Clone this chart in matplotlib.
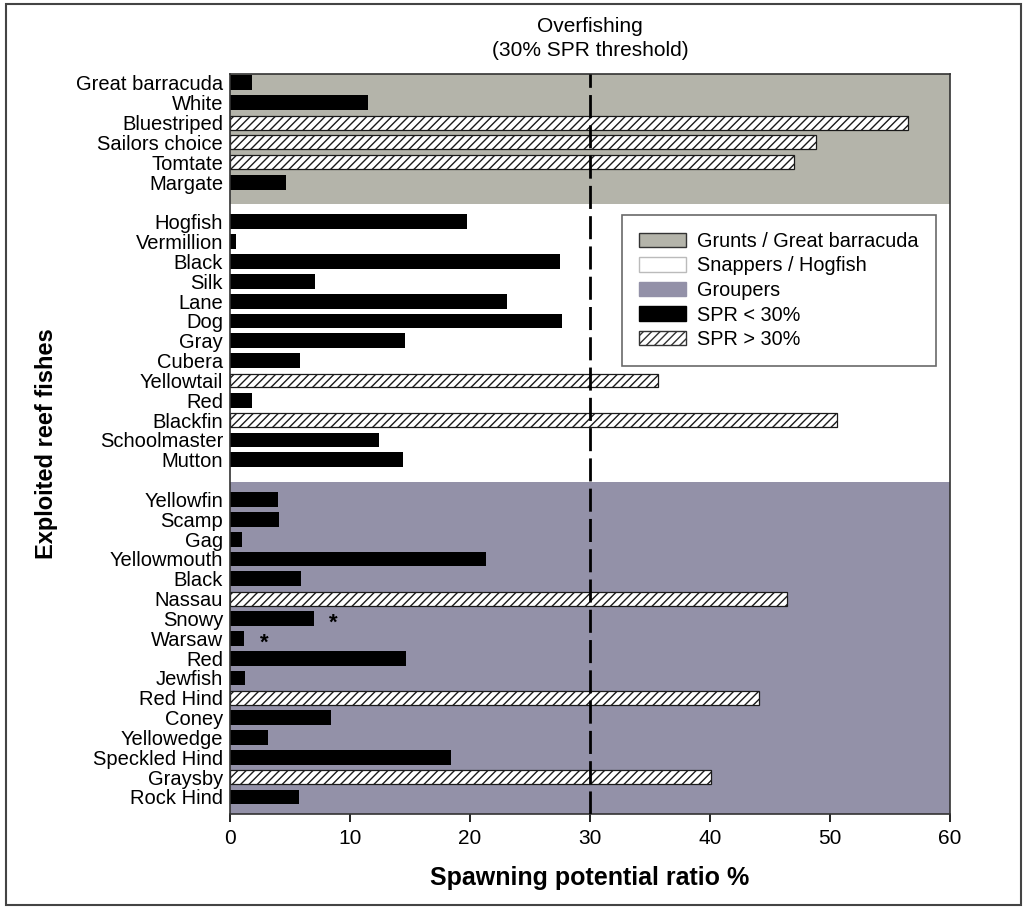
import numpy as np
import matplotlib
matplotlib.use("Agg")
import matplotlib.pyplot as plt
from matplotlib.patches import Patch, Rectangle

plt.rcParams['font.family'] = ['Liberation Sans', 'DejaVu Sans']
plt.rcParams['hatch.linewidth'] = 1.0

# --- Data (SPR %) ---
grunts = ["Great barracuda", "White", "Bluestriped", "Sailors choice", "Tomtate", "Margate"]
grunts_spr = [1.8, 11.5, 56.5, 48.8, 47.0, 4.7]

snappers = ["Hogfish", "Vermillion", "Black", "Silk", "Lane", "Dog", "Gray", "Cubera",
            "Yellowtail", "Red", "Blackfin", "Schoolmaster", "Mutton"]
snappers_spr = [19.75, 0.5, 27.5, 7.05, 23.1, 27.7, 14.6, 5.8, 35.7, 1.8, 50.6, 12.4, 14.45]

groupers = ["Yellowfin", "Scamp", "Gag", "Yellowmouth", "Black", "Nassau", "Snowy", "Warsaw",
            "Red", "Jewfish", "Red Hind", "Coney", "Yellowedge", "Speckled Hind", "Graysby",
            "Rock Hind"]
groupers_spr = [4.0, 4.1, 1.0, 21.3, 5.95, 46.4, 7.0, 1.2, 14.7, 1.25, 44.1, 8.4, 3.2, 18.4,
                40.1, 5.75]

starred = ["Snowy", "Warsaw"]   # groupers marked with *
threshold = 30

grunt_col = "#b4b4aa"
grouper_col = "#9391a8"

# --- Layout of rows: one empty slot between groups ---
names = grunts + [""] + snappers + [""] + groupers
values = grunts_spr + [np.nan] + snappers_spr + [np.nan] + groupers_spr
pos = np.arange(len(names))
gap1 = len(grunts)
gap2 = len(grunts) + 1 + len(snappers)

fig = plt.figure(figsize=(10.24, 9.07), dpi=100)
ax = fig.add_axes([0.2246, 0.1025, 0.7031, 0.8159])

top, bottom = -0.45, pos[-1] + 0.86
ax.axhspan(top, gap1 + 0.1, color=grunt_col, lw=0, zorder=0)
ax.axhspan(gap2 + 0.1, bottom, color=grouper_col, lw=0, zorder=0)

vals = np.array(values, dtype=float)
ok = ~np.isnan(vals)
low = ok & (vals < threshold)
high = ok & (vals >= threshold)
ax.barh(pos[low], vals[low], height=0.75, color="black", lw=0, zorder=2)
ax.barh(pos[high], vals[high], height=0.7, color="white", edgecolor="#1a1a1a",
        hatch="////", lw=0.9, zorder=2)

ax.axvline(threshold, color="black", lw=2.0, dashes=(8.3, 2.6), zorder=3)

for sp in starred:
    i = gap2 + 1 + groupers.index(sp)
    ax.text(vals[i] + 1.65, i + 0.25, "*", ha="center", va="center", fontsize=16,
            fontweight="bold", zorder=4)

ax.set_xlim(0, 60)
ax.set_ylim(bottom, top)
ax.set_xticks(np.arange(0, 61, 10))
tick_pos = pos[ok]
ax.set_yticks(tick_pos)
ax.set_yticklabels([names[i] for i in tick_pos])
ax.tick_params(axis="y", length=0, pad=5, labelsize=14.5)
ax.tick_params(axis="x", length=6, width=1.2, pad=5, labelsize=15, direction="out")
for s in ax.spines.values():
    s.set_color("#333333")
    s.set_linewidth(1.2)

ax.set_xlabel("Spawning potential ratio %", fontsize=18, fontweight="bold", labelpad=13)
ax.set_ylabel("Exploited reef fishes", fontsize=17, fontweight="bold", labelpad=13)

ax.annotate("Overfishing\n(30% SPR threshold)", xy=(threshold, 1.048),
            xycoords=("data", "axes fraction"), ha="center", va="center",
            fontsize=15, linespacing=1.3, annotation_clip=False)

handles = [
    Patch(facecolor=grunt_col, edgecolor="#333333", lw=1.0, label="Grunts / Great barracuda"),
    Patch(facecolor="white", edgecolor="#bbbbbb", lw=1.0, label="Snappers / Hogfish"),
    Patch(facecolor=grouper_col, edgecolor=grouper_col, lw=1.0, label="Groupers"),
    Patch(facecolor="black", edgecolor="black", lw=1.0, label="SPR < 30%"),
    Patch(facecolor="white", edgecolor="#333333", hatch="////", lw=1.0, label="SPR > 30%"),
]
leg = ax.legend(handles=handles, loc="upper left", bbox_to_anchor=(0.544, 0.8095),
                fontsize=14.3, frameon=True, fancybox=False, handlelength=2.4,
                handleheight=0.75, labelspacing=0.28, borderpad=0.85, handletextpad=0.55,
                borderaxespad=0)
leg.get_frame().set_edgecolor("#444444")
leg.get_frame().set_linewidth(1.2)
leg.set_zorder(5)

# outer frame round the whole figure
fig.patches.append(Rectangle((6 / 1024, 1 - 905 / 907), 1015 / 1024, 901 / 907,
                             transform=fig.transFigure, fill=False, edgecolor="#444444",
                             lw=1.5))

fig.savefig("out.png", dpi=100)
